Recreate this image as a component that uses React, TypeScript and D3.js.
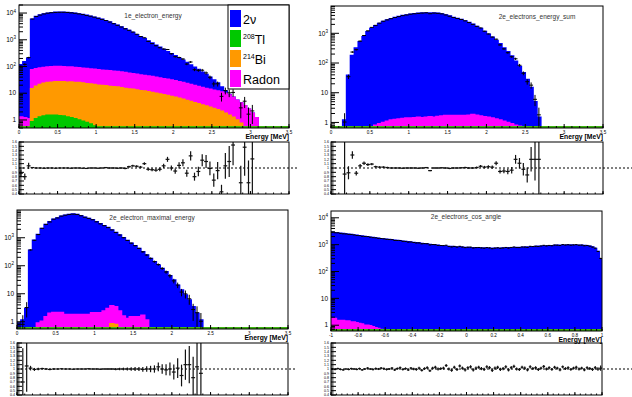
import React from "react";
import * as d3 from "d3";

// ---------- 1e_electron_energy : 0 - 3.5 MeV, 0.05 MeV bins ----------
const e1Nu = [
  114, 149, 204, 5830, 7320, 8310, 9210, 9800, 10200, 10500,
  10600, 10600, 10400, 10100, 9710, 9210, 8710, 8120, 7520, 6920,
  6330, 5730, 5130, 4530, 3930, 3435, 2940, 2540, 2145, 1800,
  1500, 1250, 1035, 855, 708, 590, 483, 395, 327, 269,
  221, 178, 145, 117, 94, 75, 60, 45, 35, 26,
  18, 12, 6, 2, 0.5, 0, 0, 0, 0, 0,
];
const e1Tl = [
  0, 0, 0, 0.85, 1.1, 1.3, 1.4, 1.5, 1.5, 1.5,
  1.45, 1.4, 1.3, 1.2, 1.1, 1.0, 0.9, 0.8, 0.7, 0.6,
  0.55,
];
const e1Bi = [
  0, 0, 0, 14, 17, 20, 22, 23.5, 24.5, 25.5,
  25.5, 25.5, 24.5, 25, 24, 24, 23, 22, 21.5, 20.5,
  19.5, 19.5, 19, 18, 17.5, 17, 16, 15, 14.5, 14,
  13.2, 12.5, 12, 11.3, 10.7, 10, 9.4, 8.8, 8.2, 7.6,
  7.1, 6.5, 6, 5.4, 4.9, 4.4, 4, 3.6, 3.3, 3,
  2.7, 2.4, 2.1, 1.8, 1.5, 1.25, 1, 0.75,
];
const e1Radon = [
  1.3, 1.2, 1.1, 60, 64, 67, 69, 70, 72, 73,
  73, 72, 71, 69, 67, 65, 63, 61, 59, 57,
  55, 53.5, 52, 51, 49.5, 48, 46, 44, 41.5, 39,
  37.8, 35.5, 34, 32.7, 31.3, 30, 27.6, 26.2, 24.8, 23.4,
  21.9, 20.5, 19, 17.6, 16.1, 15.1, 14, 12.9, 11.7, 11,
  10.3, 9.6, 8.9, 8.2, 7, 5.75, 4.5, 3.55, 3.4, 2.5,
  1.8, 1.2,
];
const e1Ratio: (number | null)[] = [
  0.88, 0.8, 1.05, 1.01, 1.0, 1.0, 0.995, 1.0, 1.0, 0.995,
  1.0, 1.0, 1.0, 0.995, 1.0, 1.0, 0.995, 0.99, 1.0, 1.0,
  0.995, 1.0, 1.01, 1.0, 1.0, 0.995, 1.0, 0.99, 1.03, 1.05,
  1.04, 1.02, 1.1, 0.97, 0.96, 0.95, 0.97, 1.05, 1.2, 1.0,
  0.93, 1.06, 1.12, 0.88, 1.28, 0.8, 0.92, 1.18, 1.15, 0.99,
  0.72, 0.94, 0.45, 1.05, 1.15, 1.53, null, 0.66, 1.48, 0.66,
  1.21,
];

// ---------- 2e_electrons_energy_sum ----------
const sumNu = [
  0, 0, 0, 1.2, 39, 180, 320, 520, 760, 1120,
  1450, 1800, 2150, 2500, 2800, 3100, 3400, 3650, 3950, 4150,
  4400, 4550, 4700, 4800, 4850, 4850, 4800, 4700, 4500, 4150,
  3800, 3400, 3150, 2900, 2600, 2300, 2000, 1700, 1450, 1150,
  920, 730, 570, 440, 320, 240, 170, 115, 75, 46,
  28, 15, 5, 1.5,
];
const sumTl: number[] = [];
const sumBi: number[] = [];
const sumRadon = [
  0, 0, 0, 0, 0, 0, 0, 0, 0, 0,
  0, 0.8, 0.9, 1.0, 1.1, 1.2, 1.25, 1.3, 1.35, 1.4,
  1.4, 1.45, 1.5, 1.45, 1.5, 1.55, 1.5, 1.6, 1.65, 1.7,
  1.7, 1.72, 1.72, 1.72, 1.7, 1.75, 1.85, 1.75, 1.65, 1.55,
  1.5, 1.4, 1.3, 1.2, 1.1, 1.0, 0.9, 0.8, 0.75, 0.7,
];
const sumRatio: (number | null)[] = [
  null, null, null, 0.86, 0.89, 1.3, 0.88, 1.05, 1.11, 1.08,
  1.09, 1.03, 1.02, 1.02, 1.01, 1.0, 1.0, 1.0, 0.995, 1.0,
  1.0, 1.0, 0.995, 1.0, 1.01, 0.94, 1.0, 1.0, 1.005, 1.0,
  0.99, 1.0, 1.0, 1.005, 1.01, 1.0, 1.0, 1.01, 1.04, 1.02,
  1.03, 1.02, 1.11, 0.92, 0.93, 0.92, 0.95, 1.2, 1.11, 0.97,
  0.84, 1.2, 1.2, 1.2,
];

// ---------- 2e_electron_maximal_energy ----------
const maxNu = [
  0.9, 1.15, 3.0, 360, 820, 1300, 2150, 3000, 3700, 4600,
  5100, 5900, 6400, 6800, 7000, 6800, 6100, 5400, 4900, 4400,
  3700, 3150, 2700, 2300, 1900, 1550, 1250, 1000, 800, 640,
  520, 415, 315, 240, 183, 140, 105, 80, 61, 44,
  31, 20, 13.5, 9, 6, 3.4, 2.0, 1.15,
];
const maxTl: number[] = [];
const maxBi = [
  0, 0, 0, 0, 0, 0, 0, 0, 0, 0,
  0, 0, 0, 0, 0, 0, 0, 0, 0, 0,
  0, 0, 0, 0, 0.85, 0.8,
];
const maxRadon = [
  0, 0, 0, 0, 0, 0.9, 1.05, 1.5, 2.0, 2.15,
  2.15, 2.15, 1.8, 1.8, 1.8, 1.8, 1.8, 1.8, 1.8, 2.1,
  2.1, 2.1, 2.4, 3.0, 2.85, 2.6, 2.4, 1.6, 1.3, 1.5,
  1.5, 1.5, 1.7, 1.15,
];
const maxRatio: (number | null)[] = [
  null, 0.7, 1.07, 1.02, 0.99, 1.0, 1.01, 1.0, 0.99, 1.0,
  1.0, 1.005, 1.0, 1.0, 0.995, 1.0, 1.0, 1.0, 1.005, 1.0,
  1.0, 0.995, 1.0, 1.0, 1.0, 0.995, 1.0, 1.0, 1.0, 1.0,
  1.0, 1.0, 0.99, 1.0, 1.0, 1.0, 1.05, 1.0, 0.98, 1.0,
  0.93, 1.02, 0.85, 1.1, 1.1, 0.8, 1.05, 0.9, 1.25, 1.05,
];

// ---------- 2e_electrons_cos_angle : -1 - 1, 0.02 bins ----------
const cosNu = [
  2870, 2800, 2730, 2650, 2580, 2510, 2440, 2370, 2300, 2220,
  2150, 2090, 2020, 1960, 1900, 1840, 1780, 1720, 1660, 1630,
  1600, 1550, 1510, 1470, 1420, 1390, 1350, 1310, 1270, 1240,
  1200, 1170, 1140, 1110, 1080, 1050, 1020, 990, 960, 940,
  920, 900, 880, 860, 850, 830, 820, 810, 800, 790,
  780, 770, 765, 760, 755, 750, 745, 740, 735, 730,
  730, 735, 740, 745, 750, 760, 765, 770, 780, 785,
  790, 800, 810, 825, 840, 850, 865, 875, 890, 900,
  910, 920, 930, 940, 950, 955, 960, 962, 962, 960,
  960, 955, 945, 930, 910, 870, 820, 720, 560, 300,
];
const cosTl: number[] = [];
const cosBi: number[] = [];
const cosRadon = [
  1.77, 1.77, 1.5, 1.5, 1.5, 1.45, 1.45, 1.33, 1.33, 1.25,
  1.15, 1.1, 1.0, 1.0, 0.95, 0.87, 0.8, 0.75, 0.7, 0.65,
];
const cosRatio: (number | null)[] = [
  1.0, 0.99, 1.01, 0.99, 0.98, 1.0, 0.99, 1.01, 1.0, 0.99,
  1.01, 0.98, 1.0, 1.02, 1.0, 0.99, 1.01, 1.0, 1.02, 1.01,
  0.99, 1.0, 1.02, 0.98, 1.01, 1.03, 0.99, 1.01, 0.98, 1.02,
  1.0, 0.99, 1.02, 0.97, 1.01, 1.03, 0.96, 1.02, 1.04, 1.0,
  1.01, 1.02, 1.08, 1.0, 0.97, 1.04, 0.99, 1.07, 1.02, 0.98,
  1.03, 1.05, 0.98, 1.02, 1.04, 1.01, 0.99, 1.05, 1.03, 0.97,
  1.02, 1.04, 0.99, 1.01, 1.05, 0.98, 1.03, 1.06, 1.0, 0.99,
  1.04, 1.02, 0.98, 1.05, 1.01, 1.03, 0.99, 1.02, 1.06, 1.0,
  1.03, 0.99, 1.04, 1.02, 0.98, 1.05, 1.01, 1.03, 0.99, 1.02,
  1.04, 1.0, 1.02, 0.98, 1.03, 1.01, 0.99, 1.03, 1.0, 1.02,
];

const energyTicks = [0, 0.5, 1, 1.5, 2, 2.5, 3, 3.5];
const cosTicks = [-1, -0.8, -0.6, -0.4, -0.2, 0, 0.2, 0.4, 0.6, 0.8, 1];
const ratioTicks = [0.4, 0.5, 0.6, 0.7, 0.8, 0.9, 1, 1.1, 1.2, 1.3, 1.4, 1.5, 1.6];

const legendEntries = [
  { sup: "", base: "2\u03bd", color: "#0000ff" },
  { sup: "208", base: "Tl", color: "#00c800" },
  { sup: "214", base: "Bi", color: "#ff9900" },
  { sup: "", base: "Radon", color: "#ff00ff" },
];

const FONT = "'Liberation Sans', Arial, Helvetica, sans-serif";
const C_NU = "#0000ff";
const C_TL = "#00c800";
const C_BI = "#ff9900";
const C_RN = "#ff00ff";

type Frame = { x0: number; x1: number; y0: number; y1: number };
type Spec = {
  id: string;
  title: string;
  titleX: number;
  titleY: number;
  frame: Frame;
  ratioFrame: Frame;
  dashEnd: number;
  xDomain: [number, number];
  binWidth: number;
  nBins: number;
  yDomain: [number, number];
  nu: number[];
  tl: number[];
  bi: number[];
  radon: number[];
  ratio: (number | null)[];
  xTicks: number[];
  xMinor: number;
  legend?: boolean;
};

const specs: Spec[] = [
  {
    id: "p1", title: "1e_electron_energy", titleX: 153, titleY: 18,
    frame: { x0: 19, x1: 289, y0: 5, y1: 128 },
    ratioFrame: { x0: 19, x1: 289, y0: 142, y1: 194 },
    dashEnd: 297, xDomain: [0, 3.5], binWidth: 0.05, nBins: 70,
    yDomain: [0.5, 20000],
    nu: e1Nu, tl: e1Tl, bi: e1Bi, radon: e1Radon, ratio: e1Ratio,
    xTicks: energyTicks, xMinor: 0.1, legend: true,
  },
  {
    id: "p2", title: "2e_electrons_energy_sum", titleX: 537, titleY: 19,
    frame: { x0: 331, x1: 603, y0: 6, y1: 128 },
    ratioFrame: { x0: 331, x1: 603, y0: 142, y1: 194 },
    dashEnd: 632, xDomain: [0, 3.5], binWidth: 0.05, nBins: 70,
    yDomain: [0.65, 8300],
    nu: sumNu, tl: sumTl, bi: sumBi, radon: sumRadon, ratio: sumRatio,
    xTicks: energyTicks, xMinor: 0.1,
  },
  {
    id: "p3", title: "2e_electron_maximal_energy", titleX: 152, titleY: 220,
    frame: { x0: 17, x1: 288, y0: 210, y1: 329 },
    ratioFrame: { x0: 17, x1: 288, y0: 343, y1: 395 },
    dashEnd: 297, xDomain: [0, 3.5], binWidth: 0.05, nBins: 70,
    yDomain: [0.55, 9800],
    nu: maxNu, tl: maxTl, bi: maxBi, radon: maxRadon, ratio: maxRatio,
    xTicks: energyTicks, xMinor: 0.1,
  },
  {
    id: "p4", title: "2e_electrons_cos_angle", titleX: 466, titleY: 219,
    frame: { x0: 331, x1: 602, y0: 211, y1: 331 },
    ratioFrame: { x0: 331, x1: 602, y0: 343, y1: 395 },
    dashEnd: 632, xDomain: [-1, 1], binWidth: 0.02, nBins: 100,
    yDomain: [0.61, 17900],
    nu: cosNu, tl: cosTl, bi: cosBi, radon: cosRadon, ratio: cosRatio,
    xTicks: cosTicks, xMinor: 0.04,
  },
];

const sup: Record<string, string> = { "2": "2", "3": "3", "4": "4" };

function Panel({ s }: { s: Spec }) {
  const f = s.frame;
  const rf = s.ratioFrame;
  const x = d3.scaleLinear().domain(s.xDomain).range([f.x0, f.x1]);
  const y = d3.scaleLog().domain(s.yDomain).range([f.y1, f.y0]).clamp(true);
  const ry = d3.scaleLinear().domain([0.4, 1.6]).range([rf.y1, rf.y0]);
  const yMin = s.yDomain[0];
  const n = s.nBins;
  const at = (a: number[], i: number) => a[i] ?? 0;
  const bins = d3.range(n);
  const cTl = bins.map((i) => at(s.tl, i));
  const cBi = bins.map((i) => cTl[i] + at(s.bi, i));
  const cRn = bins.map((i) => cBi[i] + at(s.radon, i));
  const cAll = bins.map((i) => cRn[i] + at(s.nu, i));
  const lo = (i: number) => s.xDomain[0] + i * s.binWidth;

  const pts = (vals: number[]) => {
    const p: [number, number][] = vals.map((v, i) => [lo(i), v]);
    p.push([lo(n), vals[n - 1]]);
    return p;
  };
  const area = d3
    .area<[number, number]>()
    .x((d) => x(d[0]))
    .y0(f.y1)
    .y1((d) => y(Math.max(d[1], yMin)))
    .curve(d3.curveStepAfter);
  const line = d3
    .line<[number, number]>()
    .x((d) => x(d[0]))
    .y((d) => Math.min(y(Math.max(d[1], yMin)), f.y1 - 1))
    .curve(d3.curveStepAfter);

  const layers = [
    { v: cAll, c: C_NU },
    { v: cRn, c: C_RN },
    { v: cBi, c: C_BI },
    { v: cTl, c: C_TL },
  ];

  const points = bins
    .filter((i) => s.ratio[i] != null && cAll[i] > 0)
    .map((i) => {
      const r = s.ratio[i] as number;
      const d = r * cAll[i];
      const e = Math.sqrt(d);
      return { i, r, d, e, re: e / cAll[i] };
    });

  const [lgMin, lgMax] = s.yDomain.map(Math.log10);
  const majors = d3.range(Math.ceil(lgMin), Math.floor(lgMax) + 1);
  const minors: number[] = [];
  for (let k = Math.floor(lgMin); k <= Math.ceil(lgMax); k++) {
    for (let m = 2; m <= 9; m++) {
      const v = m * 10 ** k;
      if (v >= s.yDomain[0] && v <= s.yDomain[1]) minors.push(v);
    }
  }
  const xMinors = d3
    .range(Math.round((s.xDomain[1] - s.xDomain[0]) / s.xMinor) + 1)
    .map((k) => s.xDomain[0] + k * s.xMinor);
  const rMinors = d3.range(61).map((k) => 0.4 + k * 0.02);
  const fmt = (v: number) => (Math.abs(v) < 1e-9 ? "0" : String(+v.toFixed(2)));

  return (
    <g>
      <defs>
        <clipPath id={`clip-${s.id}`}>
          <rect x={f.x0} y={f.y0} width={f.x1 - f.x0} height={f.y1 - f.y0} />
        </clipPath>
        <clipPath id={`rclip-${s.id}`}>
          <rect x={rf.x0} y={rf.y0} width={rf.x1 - rf.x0} height={rf.y1 - rf.y0} />
        </clipPath>
      </defs>

      {/* stacked histograms */}
      <g clipPath={`url(#clip-${s.id})`}>
        {layers.map((l, k) => (
          <g key={k}>
            <path d={area(pts(l.v)) ?? ""} fill={l.c} />
            <path d={line(pts(l.v)) ?? ""} fill="none" stroke={l.c} strokeWidth={1.5} />
          </g>
        ))}
        {points.map((p) => (
          <g key={p.i} stroke="#000" strokeWidth={1}>
            <line x1={x(lo(p.i))} x2={x(lo(p.i + 1))} y1={y(p.d)} y2={y(p.d)} />
            <line
              x1={x(lo(p.i) + s.binWidth / 2)}
              x2={x(lo(p.i) + s.binWidth / 2)}
              y1={y(Math.max(p.d - p.e, yMin))}
              y2={y(p.d + p.e)}
            />
          </g>
        ))}
      </g>

      {/* frame and axes */}
      <rect x={f.x0} y={f.y0} width={f.x1 - f.x0} height={f.y1 - f.y0} fill="none" stroke="#000" />
      <g stroke="#000" strokeWidth={1}>
        {majors.map((k) => (
          <line key={`ym${k}`} x1={f.x0} x2={f.x0 + 8} y1={y(10 ** k)} y2={y(10 ** k)} />
        ))}
        {minors.map((v, k) => (
          <line key={`yn${k}`} x1={f.x0} x2={f.x0 + 4} y1={y(v)} y2={y(v)} />
        ))}
        {s.xTicks.map((v) => (
          <line key={`xm${v}`} x1={x(v)} x2={x(v)} y1={f.y1} y2={f.y1 - 4} />
        ))}
        {xMinors.map((v, k) => (
          <line key={`xn${k}`} x1={x(v)} x2={x(v)} y1={f.y1} y2={f.y1 - 2} />
        ))}
      </g>
      <g fontFamily={FONT} fill="#000">
        {majors.map((k) => (
          <text key={`yl${k}`} x={f.x0 - 3} y={y(10 ** k) + 2.2} fontSize={6.5} textAnchor="end">
            {k === 0 ? "1" : k === 1 ? "10" : (
              <>
                10<tspan dy={-2.5} fontSize={4.5}>{sup[String(k)] ?? k}</tspan>
              </>
            )}
          </text>
        ))}
        {s.xTicks.map((v) => (
          <text key={`xl${v}`} x={x(v)} y={f.y1 + 5.5} fontSize={4.6} textAnchor="middle">
            {fmt(v)}
          </text>
        ))}
        <text x={f.x1} y={f.y1 + 11} fontSize={6.8} fontWeight="bold" textAnchor="end">
          Energy [MeV]
        </text>
        <text x={s.titleX} y={s.titleY} fontSize={6.5} textAnchor="middle" fill="#333">
          {s.title}
        </text>
      </g>

      {/* ratio pad */}
      <line
        x1={rf.x0}
        x2={s.dashEnd}
        y1={ry(1)}
        y2={ry(1)}
        stroke="#000"
        strokeWidth={1}
        strokeDasharray="2,2"
      />
      <g clipPath={`url(#rclip-${s.id})`}>
        {points.map((p) => (
          <g key={p.i} stroke="#111" strokeWidth={1.2}>
            <line x1={x(lo(p.i))} x2={x(lo(p.i + 1))} y1={ry(p.r)} y2={ry(p.r)} />
            <line
              x1={x(lo(p.i) + s.binWidth / 2)}
              x2={x(lo(p.i) + s.binWidth / 2)}
              y1={ry(p.r - p.re)}
              y2={ry(p.r + p.re)}
            />
          </g>
        ))}
      </g>
      <rect x={rf.x0} y={rf.y0} width={rf.x1 - rf.x0} height={rf.y1 - rf.y0} fill="none" stroke="#000" />
      <g stroke="#000" strokeWidth={1}>
        {ratioTicks.map((v) => (
          <line key={`rm${v}`} x1={rf.x0} x2={rf.x0 + 5} y1={ry(v)} y2={ry(v)} />
        ))}
        {rMinors.map((v, k) => (
          <line key={`rn${k}`} x1={rf.x0} x2={rf.x0 + 2.5} y1={ry(v)} y2={ry(v)} strokeWidth={0.5} />
        ))}
        {s.xTicks.map((v) => (
          <line key={`rx${v}`} x1={x(v)} x2={x(v)} y1={rf.y1} y2={rf.y1 - 3} />
        ))}
        {xMinors.map((v, k) => (
          <line key={`rxn${k}`} x1={x(v)} x2={x(v)} y1={rf.y1} y2={rf.y1 - 1.5} />
        ))}
      </g>
      <g fontFamily={FONT} fontSize={3.6} fill="#000" textAnchor="end">
        {ratioTicks.map((v) => (
          <text key={`rl${v}`} x={rf.x0 - 2} y={ry(v) + 1.3}>
            {fmt(v)}
          </text>
        ))}
      </g>

      {s.legend && (
        <g fontFamily={FONT}>
          <rect x={228} y={5} width={61} height={84} fill="#fff" stroke="#000" />
          {legendEntries.map((e, k) => (
            <g key={k}>
              <rect x={230} y={10 + k * 20} width={11} height={17} fill={e.color} />
              <text x={243} y={23.5 + k * 20} fontSize={12.5} fill="#000">
                {e.sup && (
                  <tspan fontSize={7} dy={-4.5}>
                    {e.sup}
                  </tspan>
                )}
                {e.sup ? <tspan dy={4.5}>{e.base}</tspan> : e.base}
              </text>
            </g>
          ))}
        </g>
      )}
    </g>
  );
}

export default function App() {
  return (
    <svg
      width={632}
      height={397}
      viewBox="0 0 632 397"
      style={{ position: "absolute", left: 0, top: 0, background: "#fff" }}
    >
      <rect width={632} height={397} fill="#fff" />
      {specs.map((s) => (
        <Panel key={s.id} s={s} />
      ))}
    </svg>
  );
}
